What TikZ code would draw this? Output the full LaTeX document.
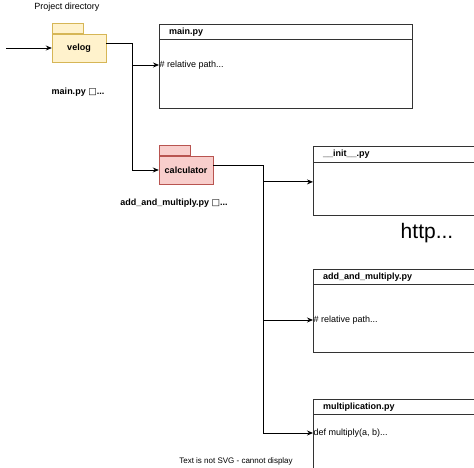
\documentclass[tikz,border=0pt]{standalone}
\usepackage{fontspec}
\setmainfont{Liberation Sans}
\newfontfamily\symfont{DejaVu Sans}
\usetikzlibrary{arrows.meta, positioning, calc}
\definecolor{FolderYellow}{RGB}{255, 242, 204}
\definecolor{FolderYellowLine}{RGB}{214, 182, 86}
\definecolor{FolderRed}{RGB}{248, 206, 204}
\definecolor{FolderRedLine}{RGB}{184, 84, 80}
\definecolor{BoxLine}{RGB}{51, 51, 51}
\newcommand{\tofu}{{\symfont\char"25A1}}

\begin{document}
\begin{tikzpicture}[
    x=1pt, y=-1pt,
    folder/.style={
        draw,
        minimum width=54pt,
        minimum height=28pt,
        inner sep=0pt,
        font=\fontsize{9}{10}\selectfont\bfseries
    },
    foldertab/.style={draw, minimum width=31pt, minimum height=10pt, inner sep=0pt},
    yellowfolder/.style={fill=FolderYellow, draw=FolderYellowLine},
    redfolder/.style={fill=FolderRed, draw=FolderRedLine},
    filebox/.style={draw=BoxLine, line width=0.8pt, anchor=north west, inner sep=0pt},
    filetitle/.style={anchor=west, inner sep=0pt, font=\fontsize{9}{10}\selectfont\bfseries},
    filetext/.style={anchor=west, inner sep=0.5pt, font=\fontsize{9}{10}\selectfont},
    caption/.style={font=\fontsize{9}{10}\selectfont\bfseries},
    note/.style={font=\fontsize{9}{10}\selectfont},
    headline/.style={draw=BoxLine, line width=0.8pt},
    arrow/.style={-{Stealth[length=6pt, width=5pt]}, line width=0.8pt, black}
]
\useasboundingbox (0,0) rectangle (474,468);
\clip (0,0) rectangle (474,468);

% Folders
\node[note] (projlabel) at (67,7) {Project directory};
\node[folder, yellowfolder] (velog) at (79,48) {velog};
\node[foldertab, yellowfolder, above right=0pt of velog.north west] (velogtab) {};
\coordinate (entry) at (6,48);
\node[caption] (velogcap) at (78,92) {main.py \tofu...};

\node[folder, redfolder] (calculator) at (186,170) {calculator};
\node[foldertab, redfolder, above right=0pt of calculator.north west] (calctab) {};
\node[caption] (calccap) at (174,203) {add\_and\_multiply.py \tofu...};

% File boxes
\node[filebox, minimum width=253pt, minimum height=84pt] (mainpy) at (159,24) {};
\draw[headline] ([yshift=-15pt]mainpy.north west) -- ([yshift=-15pt]mainpy.north east);
\node[filetitle, right=10pt of mainpy.north west, yshift=-8pt] (mainpytitle) {main.py};
\node[filetext] (mainbody) at (159,65) {\# relative path...};

\node[filebox, minimum width=200pt, minimum height=69pt] (init) at (313,146) {};
\draw[headline] ([yshift=-16pt]init.north west) -- ([yshift=-16pt]init.north east);
\node[filetitle, right=10pt of init.north west, yshift=-8.5pt] (inittitle) {\_\_init\_\_.py};

\node[filebox, minimum width=200pt, minimum height=83pt] (addmul) at (313,269) {};
\draw[headline] ([yshift=-15pt]addmul.north west) -- ([yshift=-15pt]addmul.north east);
\node[filetitle, right=10pt of addmul.north west, yshift=-8pt] (addmultitle) {add\_and\_multiply.py};
\node[filetext] (addmulbody) at (313,320) {\# relative path...};

\node[filebox, minimum width=200pt, minimum height=100pt] (mult) at (313,399) {};
\draw[headline] ([yshift=-15pt]mult.north west) -- ([yshift=-15pt]mult.north east);
\node[filetitle, right=10pt of mult.north west, yshift=-8pt] (multtitle) {multiplication.py};
\node[filetext] (multbody) at (313,433) {def multiply(a, b)...};

% Loose texts
\node[font=\fontsize{21}{24}\selectfont] (httplabel) at (427,233) {http...};
\node[font=\fontsize{8}{10}\selectfont] (svgnote) at (236,461) {Text is not SVG - cannot display};

% Connectors
\draw[arrow] (entry) -- (velog.west);
\draw[arrow] ([yshift=5pt]velog.east) -- ++(26,0) |- (mainbody.west);
\draw[arrow] ([yshift=5pt]velog.east) -- ++(26,0) |- (calculator.west);
\draw[arrow] ([yshift=5pt]calculator.east) -- ++(50,0) |- ([yshift=-1pt]init.west);
\draw[arrow] ([yshift=5pt]calculator.east) -- ++(50,0) |- (addmulbody.west);
\draw[arrow] ([yshift=5pt]calculator.east) -- ++(50,0) |- (multbody.west);

\end{tikzpicture}
\end{document}
